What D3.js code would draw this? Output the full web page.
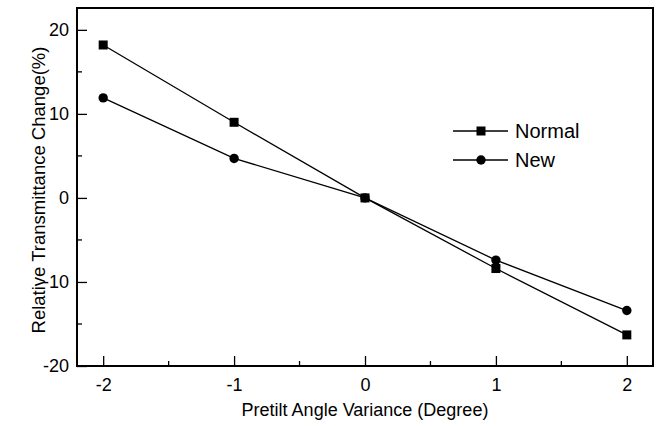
<!DOCTYPE html>
<html>
<head>
<meta charset="utf-8">
<script src="https://cdn.jsdelivr.net/npm/d3@7"></script>
<style>
  body { margin: 0; background: #fff; }
  text { font-family: Arial, "Liberation Sans", sans-serif; fill: #000; }
</style>
</head>
<body>
<div class="graph"></div>
<script>
// data
const angles = [-2, -1, 0, 1, 2];
const normalValues = [18.2, 9.0, 0, -8.4, -16.3];
const newValues = [11.9, 4.7, 0, -7.4, -13.4];
const seriesNames = ["Normal", "New"];
const xTicks = [-2, -1, 0, 1, 2];
const yTicks = [-20, -10, 0, 10, 20];

const width = 662;
const height = 426;
const margin = { top: 8, bottom: 60, left: 77, right: 9 };

const svg = d3.select('.graph')
  .append('svg')
  .attr('width', width)
  .attr('height', height)

const x = d3.scaleLinear()
  .domain([-2.2, 2.2])
  .range([margin.left, width - margin.right])

const y = d3.scaleLinear()
  .domain([-20, 22.6])
  .range([height - margin.bottom, margin.top])

// minor ticks
const xMinor = d3.range(-2, 2.01, 0.5).filter(v => !xTicks.includes(v));
const yMinor = d3.range(-20, 20.1, 5).filter(v => !yTicks.includes(v));

const fmt = d => String(d); // plain hyphen minus like the original

const xAxis = g => {
  g.attr("transform", `translate(0,${height - margin.bottom})`)
  .call(d3.axisBottom(x).tickValues(xTicks).tickSize(-10).tickPadding(12).tickFormat(fmt))
  .attr("font-size", '18px')
  .call(g => g.select(".domain").remove())
  .call(g => g.selectAll(".tick line").attr("stroke-width", 1.3))
  g.selectAll(".minor").data(xMinor).join("line").attr("class", "minor")
  .attr("x1", d => x(d)).attr("x2", d => x(d)).attr("y1", 0).attr("y2", -5)
  .attr("stroke", "#000").attr("stroke-width", 1.3)
}

const yAxis = g => {
  g.attr("transform", `translate(${margin.left}, 0)`)
  .call(d3.axisLeft(y).tickValues(yTicks).tickSize(-10).tickPadding(8).tickFormat(fmt))
  .attr("font-size", '18px')
  .call(g => g.select(".domain").remove())
  .call(g => g.selectAll(".tick line").attr("stroke-width", 1.3))
  g.selectAll(".minor").data(yMinor).join("line").attr("class", "minor")
  .attr("y1", d => y(d)).attr("y2", d => y(d)).attr("x1", 0).attr("x2", 5)
  .attr("stroke", "#000").attr("stroke-width", 1.3)
}

svg.append("g").call(xAxis);
svg.append("g").call(yAxis);
svg.selectAll(".tick text").attr("fill", "#000").attr("font-family", "Arial, 'Liberation Sans', sans-serif");

// frame
svg.append("rect")
  .attr("x", margin.left)
  .attr("y", margin.top)
  .attr("width", width - margin.left - margin.right)
  .attr("height", height - margin.top - margin.bottom)
  .attr("fill", "none")
  .attr("stroke", "#000")
  .attr("stroke-width", 2)

// series
const series = [
  { name: seriesNames[0], values: normalValues, shape: "square" },
  { name: seriesNames[1], values: newValues, shape: "circle" }
];

const line = d3.line()
  .x((d, i) => x(angles[i]))
  .y(d => y(d))

const drawMarker = (sel, shape, cx, cy) => {
  if (shape === "square") {
    sel.append("rect").attr("x", cx - 4.5).attr("y", cy - 4.5).attr("width", 9).attr("height", 9).attr("fill", "#000")
  } else {
    sel.append("circle").attr("cx", cx).attr("cy", cy).attr("r", 4.7).attr("fill", "#000")
  }
}

series.forEach(s => {
  svg.append("path")
    .datum(s.values)
    .attr("d", line)
    .attr("fill", "none")
    .attr("stroke", "#000")
    .attr("stroke-width", 1.3)
  const g = svg.append("g")
  s.values.forEach((v, i) => drawMarker(g, s.shape, x(angles[i]), y(v)))
});

// legend
const legend = svg.append("g").attr("transform", "translate(453,131)")
series.forEach((s, i) => {
  const row = legend.append("g").attr("transform", `translate(0,${i * 29})`)
  row.append("line").attr("x1", 0).attr("x2", 55).attr("stroke", "#000").attr("stroke-width", 1.3)
  drawMarker(row, s.shape, 28, 0)
  row.append("text").attr("x", 62).attr("y", 7).attr("font-size", "20px").text(s.name)
});

// axis labels
svg.append("text")
  .attr("x", 365)
  .attr("y", 416)
  .attr("text-anchor", "middle")
  .attr("font-size", "18px")
  .text("Pretilt Angle Variance (Degree)")

svg.append("text")
  .attr("transform", "translate(45,190) rotate(-90)")
  .attr("text-anchor", "middle")
  .attr("font-size", "18.5px")
  .text("Relative Transmittance Change(%)")
</script>
</body>
</html>
